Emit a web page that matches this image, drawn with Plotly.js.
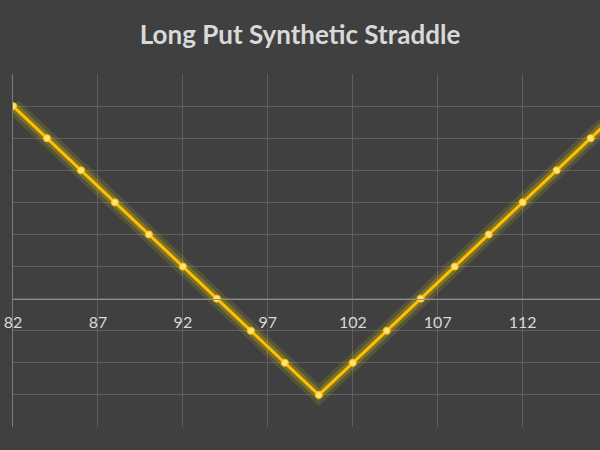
<!DOCTYPE html>
<html>
<head>
<meta charset="utf-8">
<script src="https://cdn.plot.ly/plotly-3.0.1.min.js"></script>
<style>
  html, body { margin: 0; padding: 0; background: #404040; }
  #chart { width: 600px; height: 450px; }
</style>
</head>
<body>
<div id="chart"></div>
<script>
// underlying price at expiry
var precios = [82, 84, 86, 88, 90, 92, 94, 96, 98, 100, 102, 104, 106, 108, 110, 112, 114, 116, 118];
// profit / loss of the position
var resultado = [12, 10, 8, 6, 4, 2, 0, -2, -4, -6, -4, -2, 0, 2, 4, 6, 8, 10, 12];
var tickPrecios = [82, 87, 92, 97, 102, 107, 112, 117];

// soft glow under the line
var glow = {
    type: "scatter",
    mode: "lines",
    x: precios,
    y: resultado,
    line: {color: 'rgba(255,225,0,0.12)', width: 16},
    hoverinfo: 'skip',
    showlegend: false
};

var glow2 = {
    type: "scatter",
    mode: "lines",
    x: precios,
    y: resultado,
    line: {color: 'rgba(255,225,0,0.22)', width: 9},
    hoverinfo: 'skip',
    showlegend: false
};

var trace1 = {
    type: "scatter",
    mode: "lines+markers",
    name: "P/L",
    x: precios,
    y: resultado,
    line: {color: '#FFC000', width: 3},
    marker: {color: '#FFE27A', size: 7, line: {color: '#FFC000', width: 1}},
    showlegend: false
};

var data = [glow, glow2, trace1];

var layout = {
    width: 600,
    height: 450,
    paper_bgcolor: '#404040',
    plot_bgcolor: '#404040',
    margin: {l: 13, r: 0, t: 74, b: 23},
    title: {
        text: '<b>Long Put Synthetic Straddle</b>',
        font: {family: 'Lato, "Open Sans", sans-serif', size: 26, color: '#D9D9D9'},
        x: 0.5,
        xanchor: 'center',
        y: 0.922,
        yanchor: 'middle'
    },
    xaxis: {
        range: [82, 116.55],
        tickvals: tickPrecios,
        ticktext: tickPrecios.map(String),
        showgrid: true,
        gridcolor: '#5E5E5E',
        gridwidth: 1,
        zeroline: false,
        showline: true,
        linecolor: '#8C8C8C',
        linewidth: 1.5,
        ticks: 'outside',
        ticklen: 9,
        tickcolor: 'rgba(0,0,0,0)',
        anchor: 'free',
        position: 8 / 22,
        tickfont: {family: 'Lato, "Open Sans", sans-serif', size: 16, color: '#D9D9D9'},
        fixedrange: true
    },
    yaxis: {
        range: [-8, 14],
        dtick: 2,
        showgrid: true,
        gridcolor: '#5E5E5E',
        gridwidth: 1,
        zeroline: false,
        showline: true,
        linecolor: '#7A7A7A',
        showticklabels: false,
        ticks: '',
        fixedrange: true
    },
    showlegend: false
};

var config = {displayModeBar: false, staticPlot: true};

Plotly.newPlot('chart', data, layout, config);
</script>
</body>
</html>
